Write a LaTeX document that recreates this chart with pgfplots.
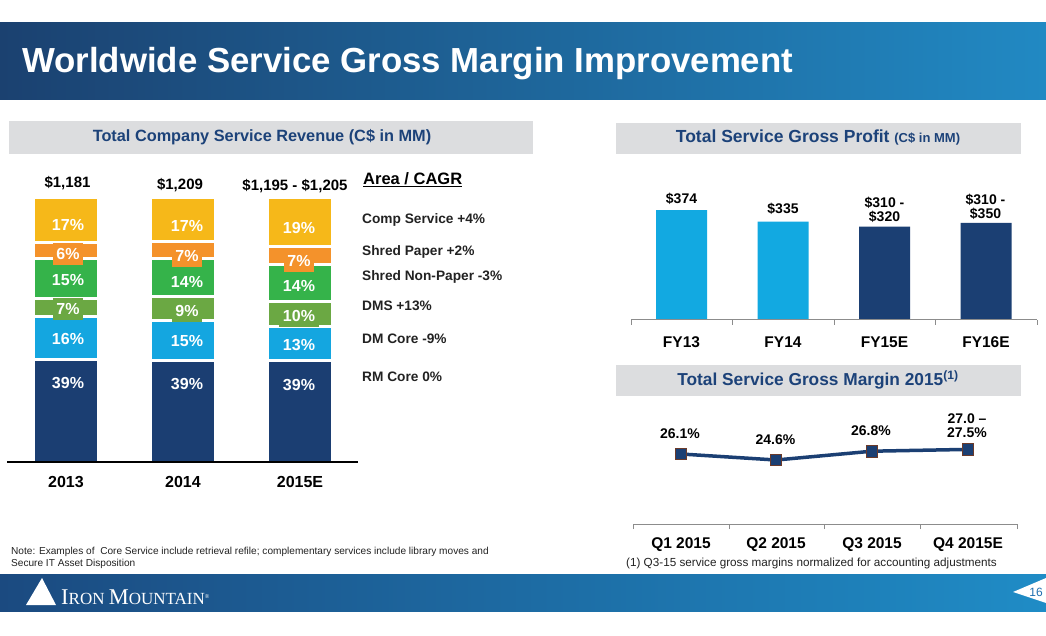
\documentclass[border=0pt]{standalone}
\usepackage{pgfplots}
\pgfplotsset{compat=1.18}
\usepackage{pgfplotstable}
\usepackage{fontspec}
\setmainfont{Liberation Sans}
\newfontfamily\logofont{Liberation Serif}
\newcommand\fs[1]{\fontsize{#1}{#1}\selectfont}
\definecolor{hdrA}{HTML}{1B4170}
\definecolor{hdrB}{HTML}{0C5E96}
\definecolor{hdrC}{HTML}{2189C3}
\definecolor{ftrA}{HTML}{1B4A80}
\definecolor{ftrB}{HTML}{0F6AA5}
\definecolor{ftrC}{HTML}{1F8CC6}
\definecolor{boxgray}{HTML}{DCDDDF}
\definecolor{ttl}{HTML}{1C4279}
\definecolor{cComp}{HTML}{F6B819}
\definecolor{cSP}{HTML}{F4922B}
\definecolor{cSNP}{HTML}{35B34A}
\definecolor{cDMS}{HTML}{6BA843}
\definecolor{cDM}{HTML}{14A6E0}
\definecolor{cRM}{HTML}{1B3E72}
\definecolor{lblue}{HTML}{12A9E1}
\definecolor{navy}{HTML}{1B3F73}
\definecolor{axgray}{HTML}{8C8C8C}
\definecolor{mkbrown}{HTML}{6B3A2A}
\definecolor{txt}{HTML}{222222}
\definecolor{pgblue}{HTML}{1F6FB0}

\pgfplotstableread{
x   rm   dm   dms  snp  sp   comp
66  39   16   7    15   6    17
183 38.6 15.0 8.9  14.4 6.6  16.5
300 38.3 13.2 9.4  13.9 6.7  18.5
}\revtable

\begin{document}
\begin{tikzpicture}[x=1pt,y=1pt]
\path[use as bounding box] (0,0) rectangle (1046,635);
\fill[white] (0,0) rectangle (1046,635);
% header band
\shade[left color=hdrA, middle color=hdrB, right color=hdrC] (0,535) rectangle (1046,612);
\node[anchor=base west, inner sep=0, text=white, font=\fs{34.8}\bfseries] at (22,562) {Worldwide Service Gross Margin Improvement};

% section title boxes
\fill[boxgray] (9,481) rectangle (533,514);
\node[text=ttl, font=\fs{16.3}\bfseries] at (262,497.5) {Total Company Service Revenue (C\$ in MM)};
\fill[boxgray] (616,481) rectangle (1021,512);
\node[text=ttl, font=\fs{17.5}\bfseries] at (818,497) {Total Service Gross Profit {\fs{13}(C\$ in MM)}};
\fill[boxgray] (616,239) rectangle (1021,270);
\node[text=ttl, font=\fs{17.3}\bfseries] at (818,255) {Total Service Gross Margin 2015\textsuperscript{(1)}};

% area / CAGR legend text
\node[anchor=west, inner sep=0, text=black, font=\fs{16.5}\bfseries] at (363,455) {\underline{Area / CAGR}};
\begin{scope}[every node/.style={anchor=west, inner sep=0, text=txt, font=\fs{13.7}\bfseries}]
\node at (362,415) {Comp Service +4\%};
\node at (362,383) {Shred Paper +2\%};
\node at (362,358) {Shred Non-Paper -3\%};
\node at (362,329) {DMS +13\%};
\node at (362,296) {DM Core -9\%};
\node at (362,258) {RM Core 0\%};
\end{scope}

% ---------- stacked revenue chart ----------
\begin{axis}[at={(7pt,173pt)}, anchor=south west, scale only axis,
  width=351pt, height=264pt, xmin=7, xmax=358, ymin=0, ymax=100,
  ybar stacked, bar width=65, axis on top,
  axis x line*=bottom, axis y line=none,
  x axis line style={-, line width=1.5pt, black},
  xtick={66,183,300}, xticklabels={2013,2014,2015E}, major tick length=0pt,
  xticklabel style={font=\fs{16}\bfseries, text=black, yshift=-11pt}]
\addplot[fill=cRM, draw=white, line width=3pt] table[x=x,y=rm]{\revtable};
\addplot[fill=cDM, draw=white, line width=3pt] table[x=x,y=dm]{\revtable};
\addplot[fill=cDMS, draw=white, line width=3pt] table[x=x,y=dms]{\revtable};
\addplot[fill=cSNP, draw=white, line width=3pt] table[x=x,y=snp]{\revtable};
\addplot[fill=cSP, draw=white, line width=3pt] table[x=x,y=sp]{\revtable};
\addplot[fill=cComp, draw=white, line width=3pt] table[x=x,y=comp]{\revtable};
\end{axis}

% labels of stacked chart
\begin{axis}[at={(7pt,173pt)}, anchor=south west, scale only axis,
  width=351pt, height=264pt, xmin=7, xmax=358, ymin=0, ymax=100,
  hide axis, clip=false,
  nodes near coords, point meta=explicit symbolic, nodes near coords align=center,
  every node near coord/.append style={font=\fs{16}\bfseries, text=white, inner xsep=3.5pt, inner ysep=5pt}]
\addplot[draw=none, mark=none, every node near coord/.append style={fill=cRM}]
  coordinates {(68,29.9)[39\%] (187,29.5)[39\%] (299,29.2)[39\%]};
\addplot[draw=none, mark=none, every node near coord/.append style={fill=cDM}]
  coordinates {(68,46.6)[16\%] (187,45.8)[15\%] (299,44.3)[13\%]};
\addplot[draw=none, mark=none, every node near coord/.append style={fill=cDMS}]
  coordinates {(68,58.0)[7\%] (187,57.2)[9\%] (299,55.3)[10\%]};
\addplot[draw=none, mark=none, every node near coord/.append style={fill=cSNP}]
  coordinates {(68,68.9)[15\%] (187,68.2)[14\%] (299,66.7)[14\%]};
\addplot[draw=none, mark=none, every node near coord/.append style={fill=cSP}]
  coordinates {(68,78.8)[6\%] (187,78.0)[7\%] (299,76.1)[7\%]};
\addplot[draw=none, mark=none, every node near coord/.append style={fill=cComp}]
  coordinates {(68,89.8)[17\%] (187,89.4)[17\%] (299,88.6)[19\%]};
\addplot[draw=none, mark=none, every node near coord/.append style={text=black, font=\fs{15}\bfseries, inner sep=0pt}]
  coordinates {(67.5,105.7)[\$1,181] (180,104.9)[\$1,209] (295,104.5)[\$1,195 - \$1,205]};
\end{axis}

% ---------- gross profit bars ----------
\begin{axis}[at={(631pt,315pt)}, anchor=south west, scale only axis,
  width=406pt, height=117.6pt, xmin=631, xmax=1037, ymin=0, ymax=400,
  clip=false, axis on top,
  axis x line*=bottom, axis y line=none,
  x axis line style={-, line width=1pt, axgray},
  xtick={631,732.5,834,935.5,1037}, xticklabels={,,,,},
  xtick align=outside, major tick length=5pt, tick style={axgray, line width=1pt},
  extra x ticks={681.5,783,884.5,986}, extra x tick labels={FY13,FY14,FY15E,FY16E},
  extra x tick style={tick style={draw=none}},
  xticklabel style={font=\fs{15.5}\bfseries, text=black, yshift=-8pt}]
\addplot[ybar, bar shift=0pt, bar width=51, fill=lblue, draw=none]
  coordinates {(681.5,374) (783,335)};
\addplot[ybar, bar shift=0pt, bar width=51, fill=navy, draw=none]
  coordinates {(884.5,318) (986,330)};
\addplot[draw=none, mark=none, nodes near coords, point meta=explicit symbolic,
  nodes near coords align=center,
  every node near coord/.append style={font=\fs{14}\bfseries, text=black, align=center, inner sep=0pt}]
  coordinates {(681.5,411.6)[\$374] (783,377.6)[\$335] (884.5,376)[{\$310 -\\\$320}] (985.5,384)[{\$310 -\\\$350}]};
\end{axis}

% ---------- gross margin line ----------
\begin{axis}[at={(633pt,111pt)}, anchor=south west, scale only axis,
  width=384pt, height=85.6pt, xmin=633, xmax=1017, ymin=8.6, ymax=30,
  clip=false, axis on top,
  axis x line*=bottom, axis y line=none,
  x axis line style={-, line width=1pt, axgray},
  xtick={633,729,824,920,1017}, xticklabels={,,,,},
  xtick align=outside, major tick length=5pt, tick style={axgray, line width=1pt},
  extra x ticks={681,776,872,968}, extra x tick labels={Q1 2015,Q2 2015,Q3 2015,Q4 2015E},
  extra x tick style={tick style={draw=none}},
  xticklabel style={font=\fs{15.5}\bfseries, text=black, yshift=-5pt}]
\addplot[navy, line width=3.5pt, mark=square*, mark size=5.8pt,
  mark options={fill=navy, draw=mkbrown, line width=0.8pt}]
  coordinates {(681,26.1) (776,24.6) (872,26.8) (968,27.25)};
\addplot[draw=none, mark=none, nodes near coords, point meta=explicit symbolic,
  nodes near coords align=center,
  every node near coord/.append style={font=\fs{14}\bfseries, text=black, align=center, inner sep=0pt}]
  coordinates {(680,31.1)[26.1\%] (775.5,29.6)[24.6\%] (871,31.85)[26.8\%] (967,33.2)[{27.0 --\\27.5\%}]};
\end{axis}

% footnotes
\node[anchor=west, inner sep=0, text=txt, font=\fs{11.7}] at (626,72) {(1) Q3-15 service gross margins normalized for accounting adjustments};
\node[anchor=west, inner sep=0, text=txt, font=\fs{10.1}] at (11,83) {Note: Examples of\ \ Core Service include retrieval refile; complementary services include library moves and};
\node[anchor=west, inner sep=0, text=txt, font=\fs{10.1}] at (11,71) {Secure IT Asset Disposition};

% bottom band
\shade[left color=ftrA, middle color=ftrB, right color=ftrC] (0,24) rectangle (1046,61);
\fill[white] (26,30) -- (42,57) -- (56,30) -- cycle;
\node[anchor=base west, inner sep=0, text=white] at (61,31)
  {\logofont\fs{22.5}I\fs{17}RON \fs{22.5}M\fs{17}OUNTAIN\raisebox{6pt}{\fs{6}®}};
\fill[white] (1046,57) -- (1013,43) -- (1046,32) -- cycle;
\node[text=pgblue, font=\fs{12}] at (1036,43) {16};
\end{tikzpicture}
\end{document}
